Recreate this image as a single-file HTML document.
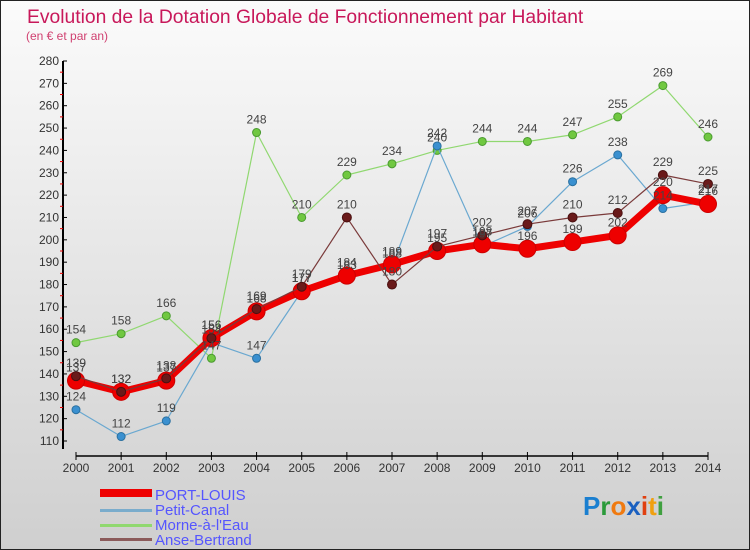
<!DOCTYPE html>
<html><head><meta charset="utf-8"><style>
html,body{margin:0;padding:0}
body{width:750px;height:550px;overflow:hidden;font-family:"Liberation Sans",sans-serif}
#wrap{position:relative;width:748px;height:548px;border:1px solid #222;background:linear-gradient(#fbfbfb,#cfcfcf)}
</style></head><body>
<div id="wrap">
<svg id="chart" width="748" height="548" style="position:absolute;left:0;top:0">
<text x="26" y="22" font-size="19.3" fill="#c8185a">Evolution de la Dotation Globale de Fonctionnement par Habitant</text>
<text x="25" y="39" font-size="12" fill="#d04070">(en € et par an)</text>
<g id="axes"></g><g id="series"></g><g id="labels"></g>
<g>
<rect x="99" y="488" width="52" height="8" fill="#e00"/>
<text x="154" y="499" font-size="15" fill="#5555ff">PORT-LOUIS</text>
<rect x="99" y="508" width="52" height="3" fill="#7aaccc"/>
<text x="154" y="514" font-size="15" fill="#5555ff">Petit-Canal</text>
<rect x="99" y="523" width="52" height="3" fill="#90d870"/>
<text x="154" y="529" font-size="15" fill="#5555ff">Morne-à-l'Eau</text>
<rect x="99" y="537" width="52" height="3" fill="#8b5a5a"/>
<text x="154" y="544" font-size="15" fill="#5555ff">Anse-Bertrand</text>
</g>
<text x="582" y="514" font-size="26" font-weight="bold"><tspan fill="#1a7fd0">P</tspan><tspan fill="#2a9a3a">r</tspan><tspan fill="#f07a10">o</tspan><tspan fill="#1a60c0">x</tspan><tspan fill="#e04010">i</tspan><tspan fill="#f0a010">t</tspan><tspan fill="#40a040">i</tspan></text>
</svg>
</div>
<script>
const years=[2000,2001,2002,2003,2004,2005,2006,2007,2008,2009,2010,2011,2012,2013,2014];
const yTicks=[110,120,130,140,150,160,170,180,190,200,210,220,230,240,250,260,270,280];
const portLouis=[137,132,137,156,168,177,184,189,195,198,196,199,202,220,216];
const petitCanal=[124,112,119,154,147,177,183,188,242,197,206,226,238,214,217];
const morne=[154,158,166,147,248,210,229,234,240,244,244,247,255,269,246];
const anse=[139,132,138,156,169,179,210,180,197,202,207,210,212,229,225];
const NS="http://www.w3.org/2000/svg";
const X0=75,X1=707,Y0=440,Y1=60,VMIN=110,VMAX=280;
function xs(i){return X0+(X1-X0)*i/(years.length-1);}
function ys(v){return Y0-(v-VMIN)/(VMAX-VMIN)*(Y0-Y1);}
function mk(tag,attrs,parent){const e=document.createElementNS(NS,tag);for(const k in attrs)e.setAttribute(k,attrs[k]);parent.appendChild(e);return e;}
const axes=document.getElementById('axes'),ser=document.getElementById('series'),lab=document.getElementById('labels');
let a=mk('line',{x1:62,y1:Y1,x2:62,y2:Y0+8,stroke:'#000','stroke-width':2},axes);


a=mk('line',{x1:X0,y1:455,x2:X1,y2:455,stroke:'#000','stroke-width':1.5},axes);


yTicks.forEach((v,i)=>{
 const y=ys(v);
 mk('line',{x1:62,y1:y,x2:66,y2:y,stroke:'#000'},axes);
 if(i<yTicks.length-1){mk('line',{x1:59,y1:ys(v+5),x2:62,y2:ys(v+5),stroke:'#e00'},axes);}
 const t=mk('text',{x:58,y:y+4,'font-size':12,fill:'#333','text-anchor':'end'},axes);
 t.textContent=v;
 
 
});
years.forEach((yr,i)=>{
 const x=xs(i);
 mk('line',{x1:x,y1:451,x2:x,y2:459,stroke:'#000'},axes);
 const t=mk('text',{x:x,y:471,'font-size':12,fill:'#333','text-anchor':'middle'},axes);
 t.textContent=yr;
 
 
});
function drawSeries(data,name,color,width,r,fill,stroke){
 const g=mk('g',{},ser);
 
 
 const pl=mk('polyline',{points:data.map((v,i)=>xs(i)+','+ys(v)).join(' '),fill:'none',stroke:color,'stroke-width':width,'stroke-linejoin':'round'},g);
 
 
 data.forEach((v,i)=>{
  const c=mk('circle',{cx:xs(i),cy:ys(v),r:r,fill:fill,stroke:stroke,'stroke-width':1},g);
  
  
  const t=mk('text',{x:xs(i),y:ys(v)-9,'font-size':12,fill:'#444','text-anchor':'middle'},lab);
  t.textContent=v;
  
  
 });
}
drawSeries(morne,'morne-a-leau','#90d870',1.2,4,'#70c840','#4a9a30');
drawSeries(petitCanal,'petit-canal','#6aa8d0',1.2,4,'#3a90d0','#2a70a0');
drawSeries(portLouis,'port-louis','#ee0000',7,8.5,'#ee0000','#cc0000');
drawSeries(anse,'anse-bertrand','#7a3a3a',1.2,4.5,'#6a1a1a','#4a1010');
</script>
</body></html>
